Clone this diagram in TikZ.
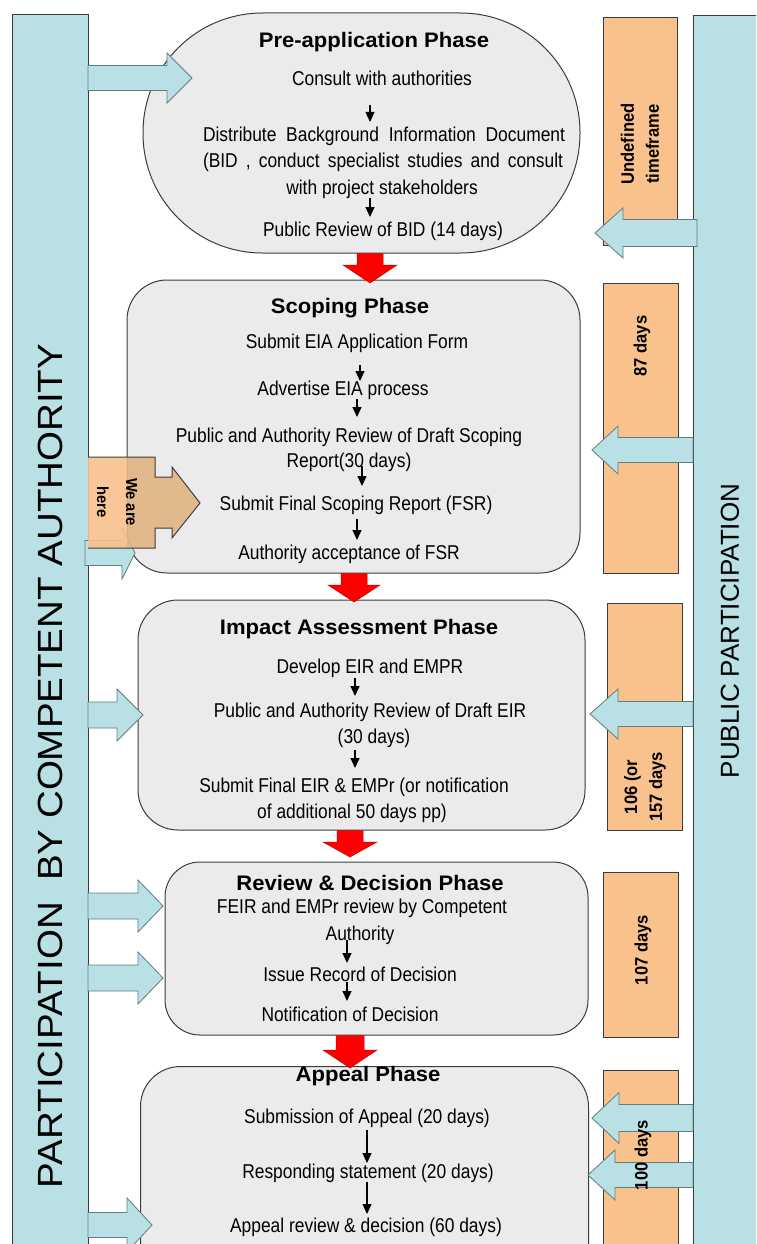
\documentclass[tikz,border=0pt]{standalone}
\usepackage{fontspec}
\setmainfont{Liberation Sans}[FakeStretch=0.87]
\newfontfamily\titlefont{Liberation Sans}[FakeStretch=1.05]
\newfontfamily\lblfont{Liberation Sans}[FakeStretch=0.92]
\newfontfamily\barfont{Liberation Sans}[FakeStretch=1.1]
\newfontfamily\rbarfont{Liberation Sans}
\usetikzlibrary{arrows.meta}
\definecolor{barblue}{RGB}{185,224,228}
\definecolor{boxgray}{RGB}{235,235,235}
\definecolor{orng}{RGB}{249,194,140}
\definecolor{tanc}{RGB}{226,180,130}
\definecolor{edgec}{RGB}{60,60,60}
\definecolor{arredge}{RGB}{95,125,130}
\tikzset{
 bar/.style={fill=barblue, draw=edgec, line width=1pt, inner sep=0},
 phasebox/.style={fill=boxgray, draw=edgec, line width=1pt, inner sep=0},
 obox/.style={fill=orng, draw=edgec, line width=1pt, inner sep=0},
 body/.style={font=\fontsize{20}{27}\selectfont, inner sep=0, anchor=base},
 ttl/.style={font=\titlefont\bfseries\fontsize{21}{25}\selectfont, inner sep=0, anchor=base},
 lbl/.style={font=\lblfont\bfseries\fontsize{18}{25}\selectfont, inner sep=0, rotate=90, align=center},
 bartxt/.style={font=\barfont\fontsize{35}{40}\selectfont, inner sep=0, rotate=90},
 sarrow/.style={-{Triangle[width=9pt,length=10pt]}, line width=1.2pt, black},
 bluearrow/.style={fill=barblue, draw=arredge, line width=0.8pt},
 redarrow/.style={fill=red, draw=red!75!black, line width=0.5pt},
 callout/.style={draw=edgec, line width=1pt},
}
\newcommand\hblock[6]{\filldraw[bluearrow] (#1,#4-#5) -- (#2,#4-#5) -- (#2,#4-#6) -- (#3,#4) -- (#2,#4+#6) -- (#2,#4+#5) -- (#1,#4+#5) -- cycle;}
\newcommand\vblock[6]{\filldraw[redarrow] (#1-#5,#2) -- (#1+#5,#2) -- (#1+#5,#3) -- (#1+#6,#3) -- (#1,#4) -- (#1-#6,#3) -- (#1-#5,#3) -- cycle;}
\newcommand\smallarr[4]{\coordinate (#4a) at (#1,#2); \coordinate (#4b) at (#1,#3); \draw[sarrow] (#4a) -- (#4b);}
\begin{document}
\begin{tikzpicture}[x=1pt,y=-1pt]
\useasboundingbox (0,0) rectangle (756,1244);
\clip (0,0) rectangle (756,1244);
\fill[white] (0,0) rectangle (756,1244);
% side bars
\node[bar, minimum width=76, minimum height=1300, anchor=north west] (lbar) at (12,14) {};
\node[bar, minimum width=80, minimum height=1300, anchor=north west] (rbar) at (693,15) {};
\node[bartxt] (ltext) at (50,766) {PARTICIPATION\ \ BY COMPETENT AUTHORITY};
\node[bartxt, font=\rbarfont\fontsize{26}{30}\selectfont] (rtext) at (730,631) {PUBLIC PARTICIPATION};
% orange timeframe boxes
\node[obox, minimum width=74, minimum height=227] (o1) at (640,131.5) {};
\node[obox, minimum width=75, minimum height=290] (o2) at (640.5,428) {};
\node[obox, minimum width=75, minimum height=227] (o3) at (644.5,716.5) {};
\node[obox, minimum width=75, minimum height=165] (o4) at (640.5,954.5) {};
\node[obox, minimum width=75, minimum height=240, anchor=north west] (o5) at (603,1070) {};
% phase boxes
\node[phasebox, rounded corners=119.5, minimum width=437, minimum height=240] (pre) at (361.5,133) {};
\node[phasebox, rounded corners=40, minimum width=453, minimum height=293] (sco) at (353.5,426.5) {};
\node[phasebox, rounded corners=40, minimum width=447, minimum height=230] (imp) at (361.5,715) {};
\node[phasebox, rounded corners=35, minimum width=423, minimum height=173] (rev) at (376.5,948.5) {};
\node[phasebox, rounded corners=40, minimum width=448, minimum height=300, anchor=north west] (app) at (140,1066) {};
% blue arrows from the competent authority
\hblock{88}{167}{192}{78}{12.5}{25}
\hblock{85}{122}{135}{553}{12.5}{26}
\hblock{88}{117}{143}{715}{13}{26}
\hblock{88}{138}{163}{906}{13}{26}
\hblock{88}{138}{163}{978}{13}{26}
\hblock{88}{127}{152}{1225}{12.5}{27}
% blue arrows from the public
\hblock{697}{623}{595}{233}{13.5}{25}
\hblock{693}{618}{592}{450}{12.5}{24}
\hblock{693}{618}{590}{714}{12.5}{25}
\hblock{693}{619}{592}{1118}{13.5}{25.5}
\hblock{693}{615}{588}{1175}{12.5}{25}
% red arrows between phases
\vblock{370}{253.5}{265}{283}{13}{27}
\vblock{354}{573.5}{585}{602}{13}{26}
\vblock{350}{830.5}{842}{857}{13}{27}
\vblock{350}{1035.5}{1050}{1068}{14}{27}
% pre-application
\node[ttl] (pt) at (374,48) {Pre-application Phase};
\node[body] (p1) at (382,86) {Consult with authorities};
\node[body] (p2) at (384,141) {\makebox[362pt][s]{Distribute Background Information Document}};
\node[body] (p3) at (383,167) {\makebox[360pt][s]{(BID , conduct specialist studies and consult}};
\node[body] (p4) at (382,194) {with project stakeholders};
\node[body] (p5) at (383,236) {Public Review of BID (14 days)};
\smallarr{370}{105}{122}{pa}
\smallarr{370}{198}{217}{pb}
% scoping
\node[ttl] (st) at (350,313) {Scoping Phase};
\node[body] (s1) at (357,348) {Submit EIA Application Form};
\node[body] (s2) at (343,395) {Advertise EIA process};
\node[body] (s3) at (349,442) {Public and Authority Review of Draft Scoping};
\node[body] (s4) at (349,467) {Report(30 days)};
\node[body] (s5) at (356,510) {Submit Final Scoping Report (FSR)};
\node[body] (s6) at (349,559) {Authority acceptance of FSR};
\smallarr{360}{365}{381}{sa}
\smallarr{357}{399}{417}{sb}
\smallarr{362}{466}{486}{sc}
\smallarr{357}{519}{540}{sd}
% impact
\node[ttl] (it) at (359,634) {Impact Assessment Phase};
\node[body] (i1) at (370,673) {Develop EIR and EMPR};
\node[body] (i2) at (370,717) {Public and Authority Review of Draft EIR};
\node[body] (i3) at (374,743) {(30 days)};
\node[body] (i4) at (354,792) {Submit Final EIR \& EMPr (or notification};
\node[body] (i5) at (352,818) {of additional 50 days pp)};
\smallarr{355}{678}{696}{ia}
\smallarr{355}{750}{768}{ib}
% review
\node[ttl] (rt) at (370,890) {Review \& Decision Phase};
\node[body] (r1) at (362,913) {FEIR and EMPr review by Competent};
\node[body] (r2) at (360,940) {Authority};
\node[body] (r3) at (360,981) {Issue Record of Decision};
\node[body] (r4) at (350,1021) {Notification of Decision};
\smallarr{347}{940}{963}{ra}
\smallarr{347}{982}{1001}{rb}
% appeal
\node[ttl] (at) at (368,1081) {Appeal Phase};
\node[body] (a1) at (367,1123) {Submission of Appeal (20 days)};
\node[body] (a2) at (368,1178) {Responding statement (20 days)};
\node[body] (a3) at (366,1232) {Appeal review \& decision (60 days)};
\smallarr{367}{1130}{1163}{aa}
\smallarr{367}{1182}{1214}{ab}
% we are here callout
\begin{scope}
\clip (88,440) rectangle (127,560);
\fill[orng, fill opacity=0.9] (88,457) -- (155,457) -- (155,477) -- (172,477) -- (172,467) -- (200,503) -- (172,538) -- (172,528) -- (155,528) -- (155,548) -- (88,548) -- cycle;
\end{scope}
\begin{scope}
\clip (127,440) rectangle (210,560);
\fill[tanc, fill opacity=0.9] (88,457) -- (155,457) -- (155,477) -- (172,477) -- (172,467) -- (200,503) -- (172,538) -- (172,528) -- (155,528) -- (155,548) -- (88,548) -- cycle;
\end{scope}
\draw[callout] (88,457) -- (155,457) -- (155,477) -- (172,477) -- (172,467) -- (200,503) -- (172,538) -- (172,528) -- (155,528) -- (155,548) -- (88,548);
\node[lbl, rotate=-180, font=\lblfont\bfseries\fontsize{16}{29}\selectfont] (here) at (117,502) {We are\\here};
% timeframe labels
\node[lbl] (l1) at (640,144) {Undefined\\timeframe};
\node[lbl] (l2) at (642,346) {87 days};
\node[lbl] (l3) at (645,787) {106 (or\\157 days};
\node[lbl] (l4) at (643,950) {107 days};
\node[lbl] (l5) at (643,1155) {100 days};
\end{tikzpicture}
\end{document}
